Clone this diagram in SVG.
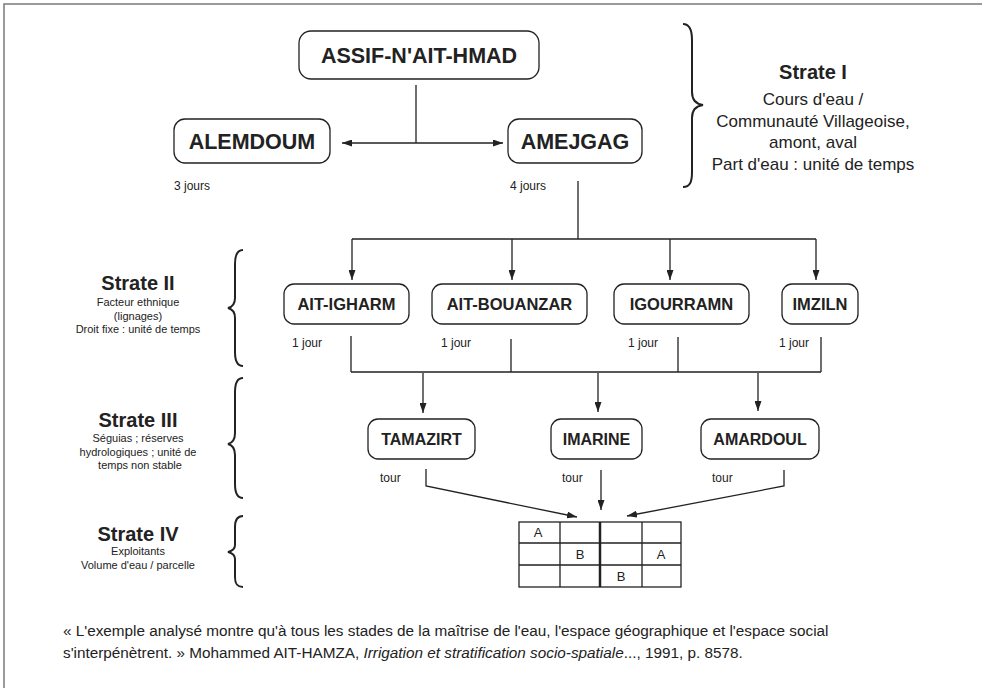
<svg xmlns="http://www.w3.org/2000/svg" width="982" height="688" viewBox="0 0 982 688">
<defs>
<marker id="ah" viewBox="0 0 10 7" refX="10" refY="3.5" markerUnits="userSpaceOnUse" markerWidth="10" markerHeight="7" orient="auto-start-reverse"><path d="M0,0 L10,3.5 L0,7 z" fill="#222"/></marker>
</defs>
<style>
.frame{fill:none;stroke:#7a7a7a;stroke-width:1.5}
.box{fill:#fff;stroke:#222;stroke-width:1.3}
.ln{fill:none;stroke:#222;stroke-width:1.3}
.arr{fill:none;stroke:#222;stroke-width:1.3;marker-end:url(#ah)}
.brace{fill:none;stroke:#222;stroke-width:2}
text{font-family:"Liberation Sans",Arial,sans-serif;fill:#222}
.n1{font-size:21.5px;font-weight:bold;text-anchor:middle}
.n2{font-size:16.5px;font-weight:bold;text-anchor:middle}
.n3{font-size:16px;font-weight:bold;text-anchor:middle}
.lab{font-size:12px}
.st{font-size:20px;font-weight:bold;text-anchor:middle}
.s1{font-size:17px;text-anchor:middle}
.s2{font-size:11px;text-anchor:middle}
.g{font-size:13px;text-anchor:middle}
.q{font-size:15.3px}
</style>
<rect width="982" height="688" fill="#fff"/>
<path class="frame" d="M4,688 V4 H982"/>

<g id="connectors">
<path class="ln" d="M416,85 V143"/>
<path class="ln" d="M342,143 H503" marker-start="url(#ah)" marker-end="url(#ah)"/>
<path class="ln" d="M578,181 V239 M352,239 H816"/>
<path class="arr" d="M352,239 V280"/>
<path class="arr" d="M512,239 V280"/>
<path class="arr" d="M670,239 V280"/>
<path class="arr" d="M816,239 V280"/>
<path class="ln" d="M351,336 V372 M511,339 V372 M678,337 V372 M821,337 V372 M351,372 H821"/>
<path class="arr" d="M423,373 V413"/>
<path class="arr" d="M598,373 V412"/>
<path class="arr" d="M758,373 V411"/>
<path class="arr" d="M426,469 V486 L577,517"/>
<path class="arr" d="M601,470 V510"/>
<path class="arr" d="M784,470 V486 L627,516"/>
</g>

<g id="n-assif"><rect class="box" x="299" y="31" width="240" height="48" rx="12"/><text class="n1" x="419" y="63">ASSIF-N'AIT-HMAD</text></g>
<g id="n-alemdoum"><rect class="box" x="174" y="119" width="156" height="44" rx="11"/><text class="n1" x="252" y="149">ALEMDOUM</text></g>
<g id="n-amejgag"><rect class="box" x="508" y="119" width="134" height="44" rx="11"/><text class="n1" x="575" y="149">AMEJGAG</text></g>
<text class="lab" x="174" y="190">3 jours</text>
<text class="lab" x="510" y="190">4 jours</text>

<g id="strate1">
<path class="brace" d="M683,24 C690,24 692,30 692,40 L692,92 C692,100 696,104 703,105 C696,106 692,110 692,118 L692,172 C692,182 690,187 683,187"/>
<text class="st" x="813" y="79">Strate I</text>
<text class="s1" x="813" y="105">Cours d'eau /</text>
<text class="s1" x="813" y="127">Communauté Villageoise,</text>
<text class="s1" x="813" y="148">amont, aval</text>
<text class="s1" x="813" y="170">Part d'eau : unité de temps</text>
</g>

<g id="strate2">
<path class="brace" d="M243,250 C237,250 235,255 235,264 L235,298 C235,304 232,307 228,308 C232,309 235,312 235,318 L235,352 C235,361 237,366 243,366"/>
<text class="st" x="138" y="290">Strate II</text>
<text class="s2" x="138" y="306">Facteur ethnique</text>
<text class="s2" x="138" y="319.5">(lignages)</text>
<text class="s2" x="138" y="333">Droit fixe : unité de temps</text>
</g>
<g id="n-aitigharm"><rect class="box" x="284" y="284" width="125" height="40" rx="10"/><text class="n2" x="346.5" y="310">AIT-IGHARM</text></g>
<g id="n-aitbouanzar"><rect class="box" x="432" y="284" width="155" height="40" rx="10"/><text class="n2" x="509.5" y="310">AIT-BOUANZAR</text></g>
<g id="n-igourramn"><rect class="box" x="614" y="284" width="135" height="40" rx="10"/><text class="n2" x="681.5" y="310">IGOURRAMN</text></g>
<g id="n-imziln"><rect class="box" x="782" y="284" width="76" height="40" rx="10"/><text class="n2" x="820" y="310">IMZILN</text></g>
<text class="lab" x="292" y="347">1 jour</text>
<text class="lab" x="441" y="347">1 jour</text>
<text class="lab" x="628" y="347">1 jour</text>
<text class="lab" x="779" y="347">1 jour</text>

<g id="strate3">
<path class="brace" d="M243,378 C237,378 235,383 235,392 L235,433 C235,439 232,443 228,444 C232,445 235,449 235,455 L235,484 C235,493 237,498 243,498"/>
<text class="st" x="138" y="427">Strate III</text>
<text class="s2" x="138" y="442">Séguias ; réserves</text>
<text class="s2" x="138" y="455.5">hydrologiques ; unité de</text>
<text class="s2" x="140" y="469">temps non stable</text>
</g>
<g id="n-tamazirt"><rect class="box" x="368" y="419" width="107" height="40" rx="10"/><text class="n3" x="421.5" y="445">TAMAZIRT</text></g>
<g id="n-imarine"><rect class="box" x="551" y="419" width="91" height="40" rx="10"/><text class="n3" x="596.5" y="445">IMARINE</text></g>
<g id="n-amardoul"><rect class="box" x="701" y="419" width="118" height="40" rx="10"/><text class="n3" x="760" y="445">AMARDOUL</text></g>
<text class="lab" x="380" y="482">tour</text>
<text class="lab" x="562" y="482">tour</text>
<text class="lab" x="712" y="482">tour</text>

<g id="strate4">
<path class="brace" d="M243,516 C237,516 235,520 235,527 L235,545 C235,549 232,551 228,552 C232,553 235,555 235,559 L235,577 C235,584 237,587 243,587"/>
<text class="st" x="138" y="541">Strate IV</text>
<text class="s2" x="138" y="555">Exploitants</text>
<text class="s2" x="138" y="569">Volume d'eau / parcelle</text>
</g>
<g id="n-grid">
<rect x="519" y="522" width="162" height="65" fill="#fff" stroke="#222" stroke-width="1.3"/>
<path class="ln" d="M560,522 V587 M642,522 V587 M519,543 H681 M519,565 H681"/>
<path d="M600,522 V587" stroke="#222" stroke-width="2.5"/>
<text class="g" x="538" y="537">A</text>
<text class="g" x="580" y="559">B</text>
<text class="g" x="661" y="559">A</text>
<text class="g" x="621" y="581">B</text>
</g>

<text class="q" x="63" y="636">« L'exemple analysé montre qu'à tous les stades de la maîtrise de l'eau, l'espace géographique et l'espace social</text>
<text class="q" x="63" y="658">s'interpénètrent. » Mohammed AIT-HAMZA, <tspan font-style="italic">Irrigation et stratification socio-spatiale</tspan>..., 1991, p. 8578.</text>
</svg>
